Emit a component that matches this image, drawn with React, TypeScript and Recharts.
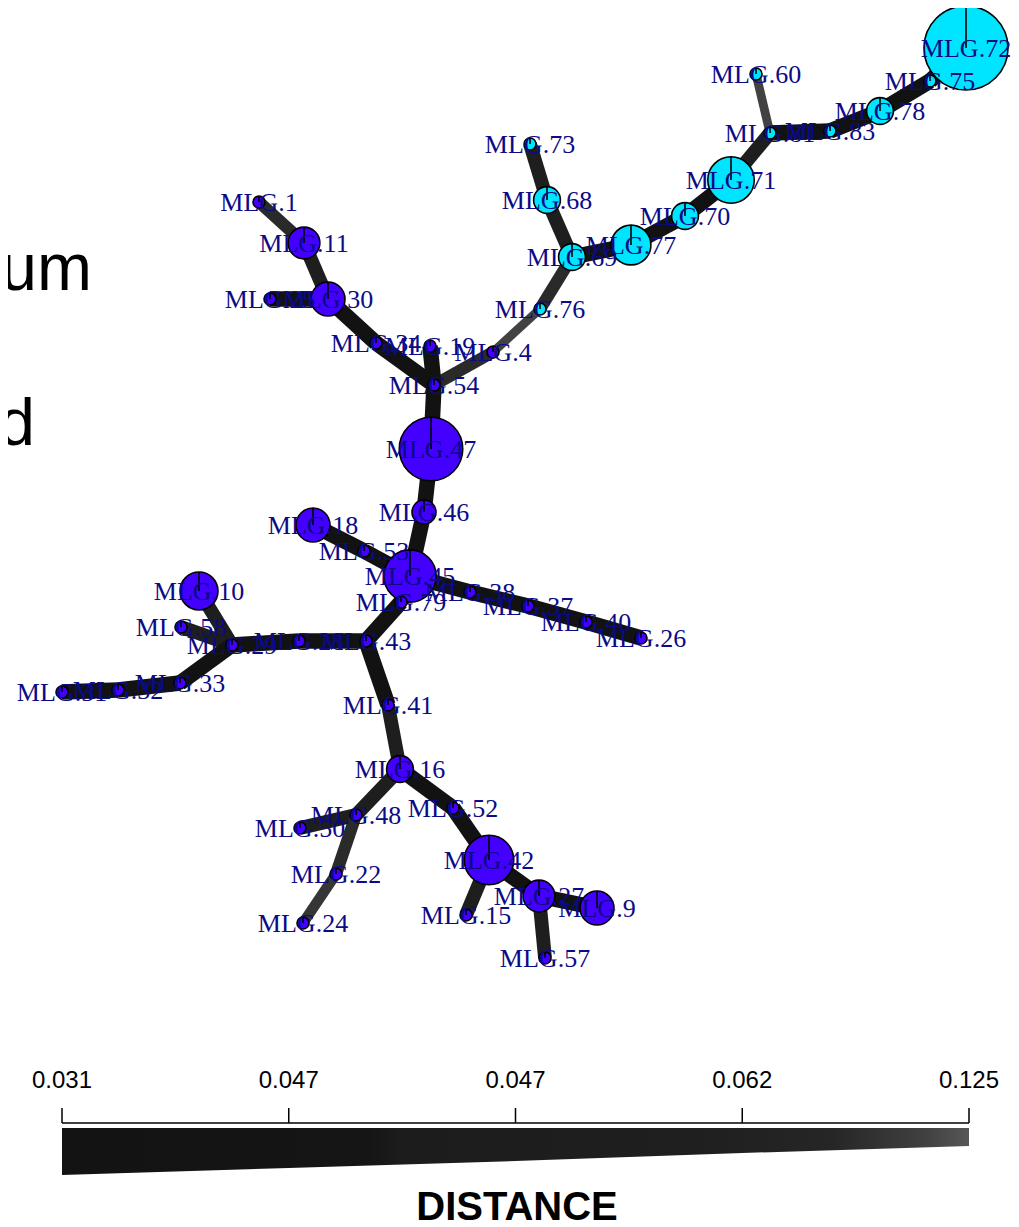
import { ScatterChart, Scatter, XAxis, YAxis, ComposedChart, Area } from 'recharts';

// network layout (reference pixel space) and genotype counts
const nodeNames = [
  'MLG.72', 'MLG.75', 'MLG.78', 'MLG.83', 'MLG.81', 'MLG.60', 'MLG.71', 'MLG.70', 'MLG.77', 'MLG.69', 'MLG.68', 'MLG.73', 'MLG.76',
  'MLG.4', 'MLG.19', 'MLG.34', 'MLG.54', 'MLG.47', 'MLG.30', 'MLG.25', 'MLG.11', 'MLG.1', 'MLG.46', 'MLG.45', 'MLG.18', 'MLG.53',
  'MLG.79', 'MLG.38', 'MLG.37', 'MLG.40', 'MLG.26', 'MLG.43', 'MLG.28', 'MLG.29', 'MLG.58', 'MLG.10', 'MLG.33', 'MLG.32', 'MLG.31',
  'MLG.41', 'MLG.16', 'MLG.48', 'MLG.50', 'MLG.22', 'MLG.24', 'MLG.52', 'MLG.42', 'MLG.15', 'MLG.27', 'MLG.9', 'MLG.57',
];
const nodeX = [
  966, 930, 880, 830, 770, 756, 731, 685, 631, 572, 547, 530, 540,
  493, 430, 376, 434, 431, 328, 270, 304, 259, 424, 410, 313, 364,
  401, 470, 528, 586, 641, 366, 299, 232, 181, 199, 180, 118, 62,
  388, 400, 356, 300, 336, 303, 453, 489, 466, 539, 597, 545,
];
const nodeY = [
  48, 81, 111, 131, 133, 74, 180, 216, 245, 257, 200, 144, 309,
  352, 346, 343, 385, 449, 299, 299, 243, 202, 512, 576, 525, 551,
  602, 592, 606, 622, 638, 641, 641, 645, 627, 591, 683, 690, 692,
  705, 769, 815, 828, 874, 923, 808, 860, 915, 896, 908, 958,
];
const nodeCount = [
  49, 1, 5, 1, 1, 1, 15, 5, 11, 5, 5, 1, 1,
  1, 1, 1, 1, 28, 8, 1, 7, 1, 4, 19, 8, 1,
  1, 1, 1, 1, 1, 1, 1, 1, 1, 10, 1, 1, 1,
  1, 5, 1, 1, 1, 1, 1, 17, 1, 7, 8, 1,
];
const nodeGroup = [
  'B', 'B', 'B', 'B', 'B', 'B', 'B', 'B', 'B', 'B', 'B', 'B', 'B',
  'A', 'A', 'A', 'A', 'A', 'A', 'A', 'A', 'A', 'A', 'A', 'A', 'A',
  'A', 'A', 'A', 'A', 'A', 'A', 'A', 'A', 'A', 'A', 'A', 'A', 'A',
  'A', 'A', 'A', 'A', 'A', 'A', 'A', 'A', 'A', 'A', 'A', 'A',
];

// minimum spanning network edges
const edgeFrom = [
  'MLG.72', 'MLG.75', 'MLG.78', 'MLG.83', 'MLG.81', 'MLG.81', 'MLG.71', 'MLG.70', 'MLG.77', 'MLG.69', 'MLG.68', 'MLG.69', 'MLG.76',
  'MLG.4', 'MLG.54', 'MLG.54', 'MLG.34', 'MLG.30', 'MLG.30', 'MLG.11', 'MLG.54', 'MLG.47', 'MLG.46', 'MLG.45', 'MLG.53',
  'MLG.45', 'MLG.38', 'MLG.37', 'MLG.40', 'MLG.45', 'MLG.79', 'MLG.43', 'MLG.28', 'MLG.29', 'MLG.29', 'MLG.29', 'MLG.33', 'MLG.32',
  'MLG.43', 'MLG.41', 'MLG.16', 'MLG.48', 'MLG.48', 'MLG.22', 'MLG.16', 'MLG.52', 'MLG.42', 'MLG.42', 'MLG.27', 'MLG.27',
];
const edgeTo = [
  'MLG.75', 'MLG.78', 'MLG.83', 'MLG.81', 'MLG.60', 'MLG.71', 'MLG.70', 'MLG.77', 'MLG.69', 'MLG.68', 'MLG.73', 'MLG.76', 'MLG.4',
  'MLG.54', 'MLG.19', 'MLG.34', 'MLG.30', 'MLG.25', 'MLG.11', 'MLG.1', 'MLG.47', 'MLG.46', 'MLG.45', 'MLG.53', 'MLG.18',
  'MLG.38', 'MLG.37', 'MLG.40', 'MLG.26', 'MLG.79', 'MLG.43', 'MLG.28', 'MLG.29', 'MLG.58', 'MLG.10', 'MLG.33', 'MLG.32', 'MLG.31',
  'MLG.41', 'MLG.16', 'MLG.48', 'MLG.50', 'MLG.22', 'MLG.24', 'MLG.52', 'MLG.42', 'MLG.15', 'MLG.27', 'MLG.9', 'MLG.57',
];
const edgeDist = [
  0.031, 0.031, 0.031, 0.031, 0.094, 0.047, 0.031, 0.031, 0.031, 0.047, 0.047, 0.062, 0.094,
  0.062, 0.031, 0.031, 0.031, 0.031, 0.047, 0.062, 0.031, 0.031, 0.031, 0.031, 0.031,
  0.031, 0.031, 0.031, 0.031, 0.031, 0.031, 0.031, 0.031, 0.047, 0.047, 0.031, 0.031, 0.031,
  0.031, 0.047, 0.047, 0.047, 0.062, 0.078, 0.031, 0.031, 0.047, 0.031, 0.031, 0.047,
];

// distance scale bar
const scaleTicks = ['0.031', '0.047', '0.047', '0.062', '0.125'];
const scaleWidths = [47, 40, 33, 25, 18];

const groupColor: Record<string, string> = { A: '#4400FF', B: '#00E5FF' };
const labelColor = '#0b0b86';

const nodes = nodeNames.map((name, i) => ({
  name,
  x: nodeX[i],
  y: nodeY[i],
  count: nodeCount[i],
  group: nodeGroup[i],
}));
const byName: Record<string, { x: number; y: number }> = {};
nodes.forEach((n) => { byName[n.name] = n; });

const edgeStyle = (d: number) => {
  const t = (d - 0.031) / (0.125 - 0.031);
  const g = Math.round(18 + 72 * t);
  return { stroke: `rgb(${g},${g},${g})`, strokeWidth: 15.5 - 10 * t };
};

const edges = edgeFrom.map((from, i) => ({
  key: `${from}-${edgeTo[i]}`,
  data: [byName[from], byName[edgeTo[i]]],
  style: edgeStyle(edgeDist[i]),
}));

const scaleData = scaleWidths.map((w, i) => ({ i, band: [5, 5 + w] }));

const NoPoint = () => <g />;

const NodeShape = (p: any) => {
  const { cx, cy, payload } = p;
  const r = 6 * Math.sqrt(payload.count);
  return (
    <g>
      <circle cx={cx} cy={cy} r={r} fill={groupColor[payload.group]} stroke="#000" strokeWidth={1.6} />
      <line x1={cx} y1={cy} x2={cx} y2={cy - r} stroke="#000" strokeWidth={1.6} />
    </g>
  );
};

const LabelShape = (p: any) => {
  const { cx, cy, payload } = p;
  return (
    <text x={cx} y={cy + 9} textAnchor="middle" fontFamily="'Liberation Serif', serif" fontSize={26} fill={labelColor}>
      {payload.name}
    </text>
  );
};

export default function App() {
  return (
    <div style={{ width: 1011 }}>
      <ScatterChart width={1011} height={1040} margin={{ top: 0, right: 0, bottom: 0, left: 0 }}>
        <XAxis type="number" dataKey="x" domain={[8, 1019]} hide />
        <YAxis type="number" dataKey="y" domain={[8, 1048]} reversed hide />
        <text x={84} y={282} textAnchor="end" fontFamily="'Liberation Sans', sans-serif" fontSize={66} fill="#000">um</text>
        <text x={27} y={437} textAnchor="end" fontFamily="'Liberation Sans', sans-serif" fontSize={66} fill="#000">d</text>
        {edges.map((e) => (
          <Scatter
            key={e.key}
            data={e.data}
            line={{ stroke: e.style.stroke, strokeWidth: e.style.strokeWidth }}
            lineType="joint"
            shape={NoPoint}
            isAnimationActive={false}
          />
        ))}
        <Scatter data={nodes} shape={NodeShape} isAnimationActive={false} />
        <Scatter data={nodes} shape={LabelShape} isAnimationActive={false} />
      </ScatterChart>
      <ComposedChart width={1011} height={179} data={scaleData} margin={{ top: 25, right: 50, bottom: 0, left: 54 }}>
        <defs>
          <linearGradient id="distGrad" x1="0" y1="0" x2="1" y2="0">
            <stop offset="0" stopColor="#131313" />
            <stop offset="0.34" stopColor="#151515" />
            <stop offset="0.37" stopColor="#1c1c1c" />
            <stop offset="0.7" stopColor="#1f1f1f" />
            <stop offset="0.85" stopColor="#262626" />
            <stop offset="0.95" stopColor="#404040" />
            <stop offset="1" stopColor="#575757" />
          </linearGradient>
        </defs>
        <XAxis
          type="number"
          dataKey="i"
          orientation="top"
          domain={[0, 4]}
          ticks={[0, 1, 2, 3, 4]}
          interval={0}
          tickFormatter={(v: number) => scaleTicks[v]}
          tickSize={15}
          tickMargin={20}
          height={50}
          axisLine={{ stroke: '#000', strokeWidth: 1.5 }}
          tickLine={{ stroke: '#000', strokeWidth: 1.5 }}
          tick={{ fill: '#000', fontSize: 24, fontFamily: "'Liberation Sans', sans-serif" }}
        />
        <YAxis type="number" domain={[0, 104]} reversed hide />
        <Area type="linear" dataKey="band" stroke="none" fill="url(#distGrad)" fillOpacity={1} isAnimationActive={false} />
        <text x={509} y={172} textAnchor="middle" fontFamily="'Liberation Sans', sans-serif" fontWeight="bold" fontSize={40} fill="#000">DISTANCE</text>
      </ComposedChart>
    </div>
  );
}
